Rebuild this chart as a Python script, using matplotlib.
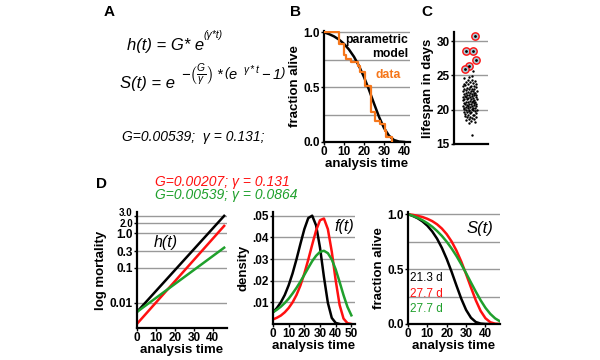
import numpy as np
import matplotlib
matplotlib.use("Agg")
import matplotlib.pyplot as plt

plt.rcParams['font.family'] = ['Liberation Sans', 'DejaVu Sans']
plt.rcParams['mathtext.fontset'] = 'custom'
plt.rcParams['mathtext.rm'] = 'Liberation Sans:italic'
plt.rcParams['mathtext.it'] = 'Liberation Sans:italic'
plt.rcParams['mathtext.bf'] = 'Liberation Sans:bold'

# ---- data ----
# B: survival data (step) and parametric model
step_t = [0, 7.5, 10, 11.2, 13.7, 17, 17.8, 20.3, 23.7, 25.7, 27.8, 30.3, 31.2, 34]
step_s = [1.0, 0.89, 0.79, 0.76, 0.73, 0.69, 0.64, 0.51, 0.27, 0.19, 0.16, 0.10, 0.05, 0.0]

t_grid = [0, 2.5, 5, 7.5, 10, 12.5, 15, 17.5, 20, 22.5, 25, 27.5, 30,
          32.5, 35, 37.5, 40, 42.5, 45, 47.5, 50]
s_black = [1.0, 0.984, 0.963, 0.934, 0.895, 0.843, 0.777, 0.693, 0.592, 0.476,
           0.351, 0.230, 0.128, 0.057, 0.018, 0.004, 0.0004, 0.0]
s_red = [1.0, 0.994, 0.985, 0.974, 0.958, 0.937, 0.908, 0.869, 0.818, 0.752, 0.669,
         0.569, 0.454, 0.333, 0.216, 0.119, 0.052, 0.016, 0.003, 0.0004, 0.0]
s_green = [1.0, 0.985, 0.967, 0.945, 0.918, 0.886, 0.847, 0.802, 0.749, 0.688, 0.620,
           0.544, 0.463, 0.378, 0.295, 0.216, 0.147, 0.092, 0.051, 0.024, 0.010]

f_black = [0.0054, 0.0074, 0.0100, 0.0134, 0.0179, 0.0234, 0.0299, 0.0370, 0.0438,
           0.0489, 0.0500, 0.0455, 0.0352, 0.0217, 0.0098, 0.0028, 0.0005, 0.0]
f_red = [0.0021, 0.0029, 0.0039, 0.0054, 0.0074, 0.0100, 0.0134, 0.0178, 0.0233, 0.0297,
         0.0366, 0.0432, 0.0479, 0.0487, 0.0438, 0.0334, 0.0201, 0.0088, 0.0025, 0.0004, 0.0]
f_green = [0.0054, 0.0066, 0.0080, 0.0097, 0.0117, 0.0141, 0.0167, 0.0196, 0.0227, 0.0259,
           0.0290, 0.0315, 0.0333, 0.0338, 0.0327, 0.0298, 0.0252, 0.0194, 0.0133, 0.0079, 0.0040]

# D left: log mortality straight lines (start, end)
h_t = [0, 46]
h_black = [0.0055, 3.1]
h_red = [0.0025, 1.6]
h_green = [0.0055, 0.38]

# C: lifespans (days) and horizontal jitter positions
life = [24.8, 24.6, 24.4, 24.3, 24.2, 24.1, 24.0, 23.9, 23.8, 23.8,
        23.7, 23.6, 23.5, 23.5, 23.4, 23.3, 23.3, 23.2, 23.1, 23.1,
        23.0, 23.0, 22.9, 22.8, 22.8, 22.7, 22.7, 22.6, 22.5, 22.5,
        22.4, 22.4, 22.3, 22.3, 22.2, 22.2, 22.1, 22.1, 22.0, 22.0,
        21.9, 21.9, 21.8, 21.8, 21.7, 21.7, 21.6, 21.6, 21.5, 21.5,
        21.4, 21.4, 21.3, 21.3, 21.2, 21.2, 21.1, 21.1, 21.0, 21.0,
        20.9, 20.9, 20.8, 20.8, 20.7, 20.7, 20.6, 20.6, 20.5, 20.5,
        20.4, 20.4, 20.3, 20.3, 20.2, 20.2, 20.1, 20.1, 20.0, 20.0,
        19.9, 19.9, 19.8, 19.8, 19.7, 19.7, 19.6, 19.5, 19.5, 19.4,
        19.3, 19.3, 19.2, 19.1, 19.0, 19.0, 18.9, 18.8, 18.7, 18.6,
        18.5, 18.4, 18.2, 18.0, 25.6, 24.9, 16.3]
life_x = [0.45, 0.30, 0.52, 0.40, 0.62, 0.35, 0.48, 0.56, 0.28, 0.66,
          0.42, 0.33, 0.58, 0.50, 0.26, 0.46, 0.64, 0.38, 0.54, 0.30,
          0.60, 0.44, 0.36, 0.68, 0.50, 0.27, 0.56, 0.40, 0.62, 0.34,
          0.47, 0.58, 0.29, 0.52, 0.66, 0.38, 0.44, 0.60, 0.32, 0.54,
          0.48, 0.25, 0.64, 0.36, 0.56, 0.42, 0.30, 0.68, 0.50, 0.38,
          0.60, 0.27, 0.46, 0.55, 0.34, 0.63, 0.40, 0.52, 0.29, 0.58,
          0.44, 0.66, 0.32, 0.50, 0.37, 0.60, 0.26, 0.54, 0.42, 0.64,
          0.35, 0.48, 0.57, 0.30, 0.62, 0.40, 0.52, 0.28, 0.45, 0.67,
          0.34, 0.56, 0.43, 0.61, 0.29, 0.50, 0.38, 0.64, 0.47, 0.33,
          0.55, 0.41, 0.60, 0.31, 0.48, 0.66, 0.37, 0.53, 0.44, 0.58,
          0.35, 0.50, 0.62, 0.45, 0.57, 0.53, 0.52]
outlier_life = [30.8, 28.6, 28.6, 27.2, 26.4, 26.0]
outlier_x = [0.62, 0.35, 0.57, 0.65, 0.44, 0.33]

RED = '#ff1010'
GREEN = '#1fa02c'
ORANGE = '#f5761a'
GRID = '#999999'
W, H = 600, 360

fig = plt.figure(figsize=(6, 3.6), dpi=100)


def px_axes(left, top, right, bottom):
    return fig.add_axes([left / W, 1 - bottom / H, (right - left) / W, (bottom - top) / H])


def ftext(x, y, s, **kw):
    fig.text(x / W, 1 - y / H, s, **kw)


def style(ax, gridvals):
    for sp in ['top', 'right']:
        ax.spines[sp].set_visible(False)
    for sp in ['left', 'bottom']:
        ax.spines[sp].set_linewidth(1.6)
    for g in gridvals:
        ax.axhline(g, color=GRID, lw=1.0, zorder=0)
    ax.tick_params(length=2, width=1, pad=1, labelsize=8.5)
    for lab in ax.get_xticklabels() + ax.get_yticklabels():
        lab.set_fontweight('bold')


# ---- panel letters ----
for lab, x, y in [('A', 104, 12), ('B', 290, 12), ('C', 421, 12), ('D', 96, 184)]:
    ftext(x, y, lab, fontsize=11, fontweight='bold', va='center')

# ---- panel A equations ----
ftext(127, 50, 'h(t) = G* e', fontsize=12, style='italic', va='baseline')
ftext(204, 38, '(\u03b3*t)', fontsize=7.5, style='italic', va='baseline')
ftext(120, 88, 'S(t) = e', fontsize=12, style='italic', va='baseline')
ftext(181, 80, r'$-\left(\frac{G}{\gamma}\right)*\left(e^{\ \ \gamma*t}-1\right)$',
      fontsize=10.5, va='baseline')
ftext(122, 137, 'G=0.00539;  \u03b3 = 0.131;', fontsize=10, style='italic', va='center')

# ---- panel D headers ----
ftext(155, 182, 'G=0.00207; \u03b3 = 0.131', fontsize=10, style='italic', color=RED, va='center')
ftext(155, 195, 'G=0.00539; \u03b3 = 0.0864', fontsize=10, style='italic', color=GREEN, va='center')

# ---- B ----
axB = px_axes(324, 31, 410, 142)
axB.plot(t_grid[:17], s_black[:17], color='black', lw=1.8, zorder=2)
axB.plot(step_t, step_s, drawstyle='steps-post', color=ORANGE, lw=1.6, zorder=3)
axB.set_xlim(0, 43)
axB.set_ylim(0, 1.012)
axB.set_xticks([0, 10, 20, 30, 40])
axB.set_yticks([0, 0.5, 1.0])
axB.set_yticklabels(['0.0', '0.5', '1.0'])
style(axB, [0.25, 0.5, 0.75, 1.0])
axB.set_xlabel('analysis time', fontsize=9.5, fontweight='bold', labelpad=0)
axB.set_ylabel('fraction alive', fontsize=9.5, fontweight='bold', labelpad=2)
axB.text(42, 0.93, 'parametric', fontsize=8.8, fontweight='bold', ha='right', va='center')
axB.text(42, 0.80, 'model', fontsize=8.8, fontweight='bold', ha='right', va='center')
axB.text(32, 0.61, 'data', fontsize=8.8, fontweight='bold', color=ORANGE, ha='center', va='center')

# ---- C ----
axC = px_axes(454, 32, 488, 144)
axC.scatter(life_x, life, s=3, color='black', zorder=3, linewidths=0)
axC.scatter(outlier_x, outlier_life, s=28, facecolor='#a8cbd6', edgecolor=RED, linewidths=1.0, zorder=4)
axC.scatter(outlier_x, outlier_life, s=4, color='black', zorder=5, linewidths=0)
axC.set_xlim(0, 1)
axC.set_ylim(15, 31.35)
axC.set_xticks([])
axC.set_yticks([15, 20, 25, 30])
style(axC, [20, 25, 30])
axC.set_ylabel('lifespan in days', fontsize=9.5, fontweight='bold', labelpad=2)

# ---- D left: h(t) ----
axH = px_axes(137, 212, 227, 328)
axH.plot(h_t, h_black, color='black', lw=1.8)
axH.plot(h_t, h_red, color=RED, lw=1.8)
axH.plot(h_t, h_green, color=GREEN, lw=1.8)
axH.set_yscale('log')
axH.set_xlim(0, 47.5)
axH.set_ylim(0.0019, 4.0)
axH.set_xticks([0, 10, 20, 30, 40])
axH.set_yticks([0.01, 0.1, 0.3, 1.0, 2.0, 3.0])
axH.set_yticklabels(['0.01', '0.1', '0.3', '1.0', '2.0', '3.0'])
axH.minorticks_off()
style(axH, [0.01, 0.1, 0.3, 1.0, 2.0, 3.0])
ylabs = axH.get_yticklabels()
for lab in ylabs[-2:]:
    lab.set_fontsize(7)
ylabs[-1].set_verticalalignment('baseline')
axH.set_xlabel('analysis time', fontsize=9.5, fontweight='bold', labelpad=0)
axH.set_ylabel('log mortality', fontsize=9.5, fontweight='bold', labelpad=2)
axH.text(9, 0.55, 'h(t)', fontsize=11.5, style='italic', ha='left', va='center')

# ---- D middle: f(t) ----
axF = px_axes(273, 212, 354.5, 324)
axF.plot(t_grid[:18], f_black, color='black', lw=1.8)
axF.plot(t_grid, f_red, color=RED, lw=1.8)
axF.plot(t_grid, f_green, color=GREEN, lw=1.8)
axF.set_xlim(0, 52)
axF.set_ylim(0, 0.0517)
axF.set_xticks([0, 10, 20, 30, 40, 50])
axF.set_yticks([0.01, 0.02, 0.03, 0.04, 0.05])
axF.set_yticklabels(['.01', '.02', '.03', '.04', '.05'])
style(axF, [0.01, 0.02, 0.03, 0.04, 0.05])
axF.set_xlabel('analysis time', fontsize=9.5, fontweight='bold', labelpad=0)
axF.set_ylabel('density', fontsize=9.5, fontweight='bold', labelpad=2)
axF.text(52, 0.045, 'f(t)', fontsize=11.5, style='italic', ha='right', va='center')

# ---- D right: S(t) ----
axS = px_axes(408, 212, 500, 324)
axS.plot(t_grid[:18], s_black, color='black', lw=1.8)
axS.plot(t_grid[:20], s_red[:20], color=RED, lw=1.8)
axS.plot(t_grid[:20], s_green[:20], color=GREEN, lw=1.8)
axS.set_xlim(0, 47.5)
axS.set_ylim(0, 1.02)
axS.set_xticks([0, 10, 20, 30, 40])
axS.set_yticks([0, 0.5, 1.0])
axS.set_yticklabels(['0.0', '0.5', '1.0'])
style(axS, [0.25, 0.5, 0.75, 1.0])
axS.set_xlabel('analysis time', fontsize=9.5, fontweight='bold', labelpad=0)
axS.set_ylabel('fraction alive', fontsize=9.5, fontweight='bold', labelpad=2)
axS.text(37, 0.87, 'S(t)', fontsize=12, style='italic', ha='center', va='center')
axS.text(1.2, 0.42, '21.3 d', fontsize=8.5, color='black', ha='left', va='center')
axS.text(1.2, 0.27, '27.7 d', fontsize=8.5, color=RED, ha='left', va='center')
axS.text(1.2, 0.14, '27.7 d', fontsize=8.5, color=GREEN, ha='left', va='center')

fig.savefig('out.png', dpi=100)
